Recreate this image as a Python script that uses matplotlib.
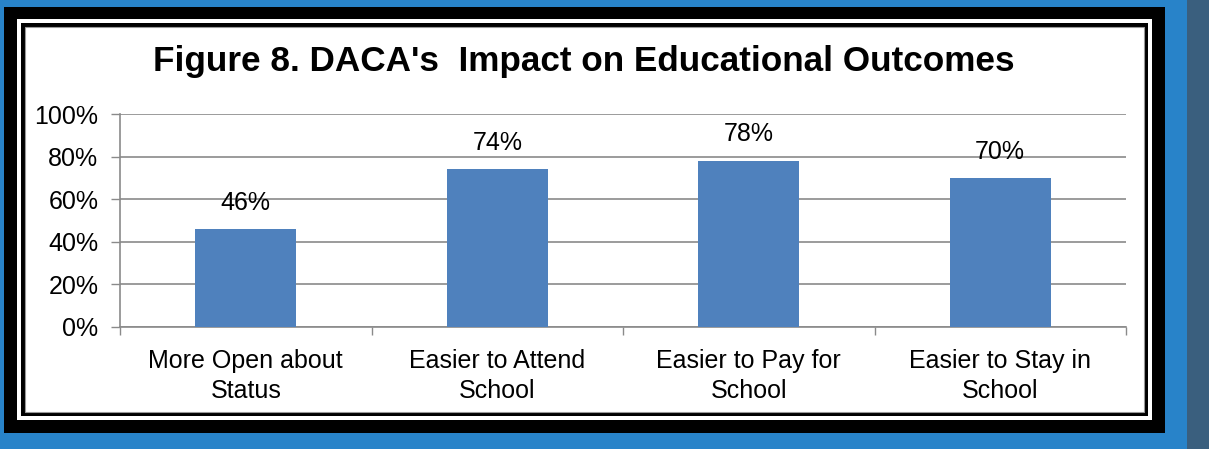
import matplotlib
matplotlib.use('Agg')
import matplotlib.pyplot as plt
from matplotlib.patches import Rectangle

plt.rcParams['font.family'] = ['Liberation Sans', 'DejaVu Sans']

# Chart data
categories = ['More Open about\nStatus', 'Easier to Attend\nSchool',
              'Easier to Pay for\nSchool', 'Easier to Stay in\nSchool']
values = [46, 74, 78, 70]
y_ticks = [0, 20, 40, 60, 80, 100]
title = "Figure 8. DACA's  Impact on Educational Outcomes"

W, H = 1209, 449
BG_BLUE = '#2883c9'
BAR_BLUE = '#4f81bd'
GRID = '#8a8a8a'


def px_rect(fig, x0, y0, x1, y1, **kw):
    """Add a rectangle given in pixel coords (origin top-left)"""
    r = Rectangle((x0 / W, 1 - y1 / H), (x1 - x0) / W, (y1 - y0) / H,
                  transform=fig.transFigure, figure=fig, zorder=-10, **kw)
    fig.patches.append(r)


fig = plt.figure(figsize=(W / 100, H / 100), dpi=100, facecolor=BG_BLUE)

# frame decoration
px_rect(fig, 1187, 0, W, H, facecolor='#3a5f7e', edgecolor='none')
px_rect(fig, 4, 7, 1165, 433, facecolor='black', edgecolor='none')
px_rect(fig, 17, 19, 1152, 420, facecolor='white', edgecolor='none')
px_rect(fig, 21, 23, 1148, 416, facecolor='black', edgecolor='none')
px_rect(fig, 25, 27, 1144, 412, facecolor='white', edgecolor='#999999', linewidth=0.8)

fig.text(584 / W, 1 - 62 / H, title, ha='center', va='center',
         fontsize=25.3, fontweight='bold', color='black')

ax = fig.add_axes([120 / W, 1 - 327 / H, 1006 / W, 213 / H])
ax.set_facecolor('none')

x = list(range(len(categories)))
ax.bar(x, values, width=0.4, color=BAR_BLUE, zorder=3)

for xi, v in zip(x, values):
    ax.annotate(f'{v}%', (xi, v), xytext=(0, 19), textcoords='offset points',
                ha='center', va='center', fontsize=18, color='black', zorder=4)

ax.set_xlim(-0.5, len(categories) - 0.5)
ax.set_ylim(0, 100)
ax.set_yticks(y_ticks)
ax.set_yticklabels([f'{t}%' for t in y_ticks])
ax.set_xticks(x)
ax.set_xticklabels(categories, linespacing=1.3)
ax.set_xticks([i - 0.5 for i in range(len(categories) + 1)], minor=True)

ax.yaxis.grid(True, color=GRID, linewidth=1.2, zorder=0)
ax.set_axisbelow(True)

for side in ['top', 'right']:
    ax.spines[side].set_visible(False)
for side in ['left', 'bottom']:
    ax.spines[side].set_color(GRID)
    ax.spines[side].set_linewidth(1.2)

ax.tick_params(axis='y', length=6.5, width=1, color=GRID, pad=9, labelsize=18)
ax.tick_params(axis='x', which='major', length=0, pad=16, labelsize=18)
ax.tick_params(axis='x', which='minor', length=6, width=1, color=GRID)

fig.savefig('out.png', dpi=100, facecolor=BG_BLUE)
